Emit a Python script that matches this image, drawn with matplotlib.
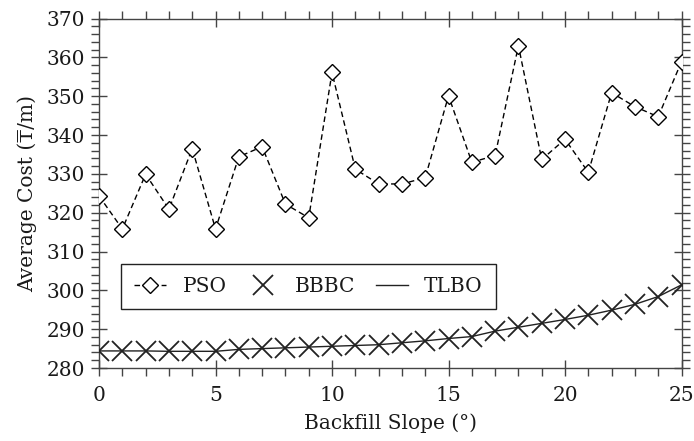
import matplotlib
matplotlib.use("Agg")
import matplotlib.pyplot as plt
from matplotlib.ticker import MultipleLocator

slope = list(range(26))
pso = [324.3, 315.8, 329.9, 320.9, 336.5, 315.8, 334.4, 337.0, 322.2, 318.7,
       356.1, 331.2, 327.4, 327.4, 329.0, 350.1, 333.0, 334.7, 363.0, 333.7,
       338.9, 330.4, 350.9, 347.3, 344.7, 358.9]
bbbc = [284.4, 284.4, 284.4, 284.4, 284.4, 284.4, 284.8, 285.1, 285.2, 285.4,
        285.7, 285.8, 286.0, 286.5, 287.0, 287.6, 288.1, 289.5, 290.5, 291.5,
        292.5, 293.6, 294.9, 296.4, 298.4, 301.4]
tlbo = [284.4, 284.4, 284.4, 284.3, 284.3, 284.3, 284.8, 285.0, 285.2, 285.4,
        285.6, 285.8, 286.0, 286.5, 287.0, 287.6, 288.1, 289.5, 290.5, 291.5,
        292.5, 293.6, 294.9, 296.4, 298.4, 301.4]

plt.rcParams['font.family'] = ['DejaVu Serif']
plt.rcParams['font.size'] = 14.5
tc = '#1a1a1a'

fig = plt.figure(figsize=(6.94, 4.41), dpi=100)
ax = fig.add_axes([0.1427, 0.1655, 0.8393, 0.7925])

ax.plot(slope, pso, linestyle=(0, (4, 2.5)), color='black', lw=1.0,
        marker='D', ms=8.5, mfc='white', mec='black', mew=1.0, label='PSO', zorder=3)
ax.plot(slope, bbbc, linestyle='none', marker='x', ms=14, mec='#222222', mew=1.3,
        label='BBBC', zorder=4)
ax.plot(slope, tlbo, linestyle='-', color='#222222', lw=1.0, label='TLBO', zorder=2)

ax.set_xlim(0, 25)
ax.set_ylim(280, 370)
ax.xaxis.set_major_locator(MultipleLocator(5))
ax.xaxis.set_minor_locator(MultipleLocator(1))
ax.yaxis.set_major_locator(MultipleLocator(10))
ax.yaxis.set_minor_locator(MultipleLocator(2))
ax.tick_params(which='major', direction='inout', length=12, width=1.0, color='#444444',
               top=True, right=True, labelcolor=tc)
ax.tick_params(which='minor', direction='out', length=6, width=1.0, color='#444444',
               top=True, right=True)
ax.tick_params(axis='x', which='major', pad=7)
ax.tick_params(axis='y', which='major', pad=4)
for s in ax.spines.values():
    s.set_color('#444444')
    s.set_linewidth(1.0)

ax.set_xlabel('Backfill Slope (°)', color=tc, labelpad=6)
ax.set_ylabel('Average Cost (₸/m)', color=tc, labelpad=7)

leg = ax.legend(loc='lower left', bbox_to_anchor=(0.038, 0.169), borderaxespad=0,
                ncol=3, fancybox=False, edgecolor='#222222', framealpha=1,
                handlelength=1.6, columnspacing=1.0, handletextpad=0.8,
                borderpad=0.65)
leg.get_frame().set_linewidth(1.0)
for t in leg.get_texts():
    t.set_color(tc)

fig.savefig('out.png', dpi=100)
